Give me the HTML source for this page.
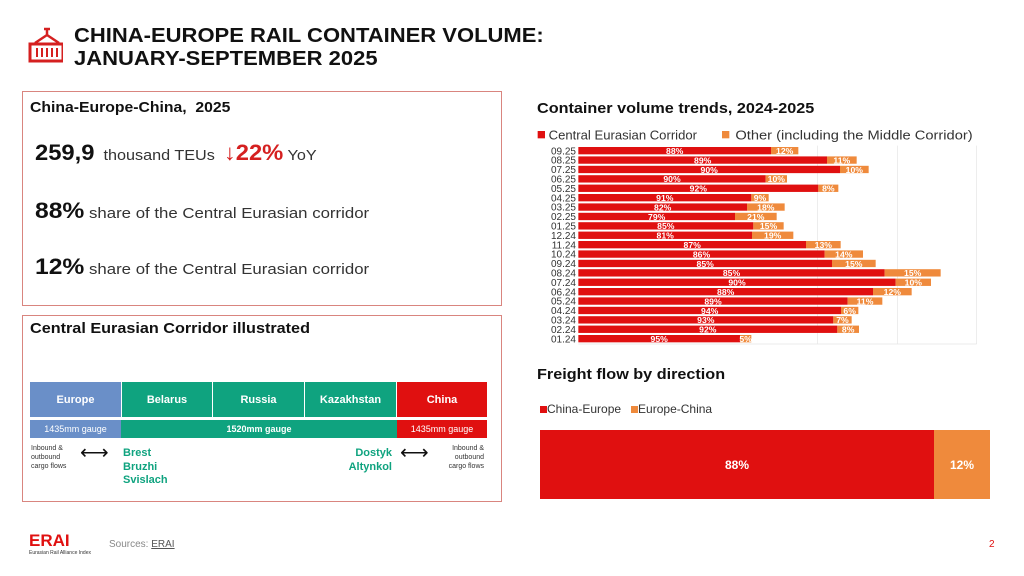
<!DOCTYPE html>
<html><head><meta charset="utf-8"><style>
*{margin:0;padding:0;box-sizing:border-box}
body{width:1024px;height:576px;background:#fff;position:relative;overflow:hidden;font-family:"Liberation Sans",sans-serif;color:#111}
.a{position:absolute;white-space:nowrap}
.box{position:absolute;border:1.5px solid #d9857f}
.b{font-weight:bold}
.cell{position:absolute;color:#fff;font-weight:bold;font-size:11px;display:flex;align-items:center;justify-content:center}
</style></head><body>
<svg class="a" style="left:27px;top:27px" width="36" height="38" viewBox="0 0 36 38">
<path d="M17 2h6M20 2v6M20 8l-12 8M20 8l12 8" stroke="#d52020" stroke-width="2.5" fill="none"/>
<rect x="3" y="17" width="33" height="17" fill="none" stroke="#d52020" stroke-width="3"/>
<path d="M10 21v9M15 21v9M20 21v9M25 21v9M30 21v9" stroke="#d52020" stroke-width="2"/>
</svg>
<div class="a b" style="left:74px;top:25px;font-size:20px;line-height:23px;transform:scaleX(1.1);transform-origin:0 0">CHINA-EUROPE RAIL CONTAINER VOLUME:<br>JANUARY-SEPTEMBER 2025</div>

<div class="box" style="left:22px;top:91px;width:480px;height:215px"></div>
<div class="a b" style="left:30px;top:99px;font-size:15px;transform:scaleX(1.05);transform-origin:0 0">China-Europe-China,&nbsp; 2025</div>
<div class="a" style="left:35px;top:140px;font-size:15px;color:#333;transform:scaleX(1.08);transform-origin:0 0"><span class="b" style="font-size:22px;color:#111">259,9</span>&nbsp; thousand TEUs &nbsp;<span class="b" style="font-size:22px;color:#d52020">↓22%</span> YoY</div>
<div class="a" style="left:35px;top:198px;font-size:15px;color:#333;transform:scaleX(1.12);transform-origin:0 0"><span class="b" style="font-size:22px;color:#111">88%</span> share of the Central Eurasian corridor</div>
<div class="a" style="left:35px;top:254px;font-size:15px;color:#333;transform:scaleX(1.12);transform-origin:0 0"><span class="b" style="font-size:22px;color:#111">12%</span> share of the Central Eurasian corridor</div>

<div class="box" style="left:22px;top:315px;width:480px;height:187px"></div>
<div class="a b" style="left:30px;top:320px;font-size:15px;transform:scaleX(1.08);transform-origin:0 0">Central Eurasian Corridor illustrated</div>
<div class="cell" style="left:30px;top:382px;width:91px;height:35px;background:#6a8fc8">Europe</div>
<div class="cell" style="left:122px;top:382px;width:90px;height:35px;background:#0fa37f">Belarus</div>
<div class="cell" style="left:213px;top:382px;width:91px;height:35px;background:#0fa37f">Russia</div>
<div class="cell" style="left:305px;top:382px;width:91px;height:35px;background:#0fa37f">Kazakhstan</div>
<div class="cell" style="left:397px;top:382px;width:90px;height:35px;background:#e01010">China</div>
<div class="cell" style="left:30px;top:420px;width:91px;height:18px;background:#6a8fc8;font-weight:normal;font-size:9px">1435mm gauge</div>
<div class="cell" style="left:121px;top:420px;width:276px;height:18px;background:#0fa37f;font-size:9px">1520mm gauge</div>
<div class="cell" style="left:397px;top:420px;width:90px;height:18px;background:#e01010;font-weight:normal;font-size:9px">1435mm gauge</div>
<div class="a" style="left:31px;top:444px;font-size:7px;line-height:9px;color:#333">Inbound &amp;<br>outbound<br>cargo flows</div>
<div class="a" style="left:80px;top:443px;font-size:20px;line-height:20px">⟷</div>
<div class="a b" style="left:123px;top:447px;font-size:11px;line-height:13.5px;color:#0fa37f">Brest<br>Bruzhi<br>Svislach</div>
<div class="a b" style="left:335px;top:447px;width:57px;text-align:right;font-size:11px;line-height:13.5px;color:#0fa37f">Dostyk<br>Altynkol</div>
<div class="a" style="left:400px;top:443px;font-size:20px;line-height:20px">⟷</div>
<div class="a" style="left:430px;top:444px;width:54px;text-align:right;font-size:7px;line-height:9px;color:#333">Inbound &amp;<br>outbound<br>cargo flows</div>

<div class="a b" style="left:537px;top:100px;font-size:15px;transform:scaleX(1.08);transform-origin:0 0">Container volume trends, 2024-2025</div>
<svg class="a" style="left:536px;top:125px" width="450" height="225" viewBox="0 0 1350 675" font-family="Liberation Sans, sans-serif">
<rect x="5" y="18" width="22" height="22" fill="#e01010"/><text x="38" y="43" font-size="38" fill="#333" textLength="445" lengthAdjust="spacingAndGlyphs">Central Eurasian Corridor</text>
<rect x="558" y="18" width="22" height="22" fill="#ef8a3c"/><text x="598" y="43" font-size="38" fill="#333" textLength="712" lengthAdjust="spacingAndGlyphs">Other (including the Middle Corridor)</text>
<g stroke="#e4e4e4" stroke-width="2"><line x1="845" y1="62" x2="845" y2="657"/><line x1="1084" y1="62" x2="1084" y2="657"/><line x1="1322" y1="62" x2="1322" y2="657"/><line x1="127" y1="657" x2="1322" y2="657"/></g>
<g id="bars"></g>
</svg>
<script>
var d=[["09.25",705,787,"88%","12%"],["08.25",873,962,"89%","11%"],["07.25",912,998,"90%","10%"],["06.25",689,753,"90%","10%"],["05.25",847,907,"92%","8%"],["04.25",646,698,"91%","9%"],["03.25",633,746,"82%","18%"],["02.25",597,722,"79%","21%"],["01.25",652,743,"85%","15%"],["12.24",648,772,"81%","19%"],["11.24",810,914,"87%","13%"],["10.24",866,981,"86%","14%"],["09.24",888,1019,"85%","15%"],["08.24",1046,1214,"85%","15%"],["07.24",1079,1185,"90%","10%"],["06.24",1011,1127,"88%","12%"],["05.24",935,1039,"89%","11%"],["04.24",915,967,"94%","6%"],["03.24",892,947,"93%","7%"],["02.24",904,969,"92%","8%"],["01.24",612,646,"95%","5%"]];
var s="";d.forEach(function(r,i){var y=66+i*28.2;
s+='<rect x="127" y="'+y+'" width="'+(r[1]-127)+'" height="22" fill="#e01010"/><rect x="'+r[1]+'" y="'+y+'" width="'+(r[2]-r[1])+'" height="22" fill="#ef8a3c"/>';
s+='<text x="120" y="'+(y+22)+'" font-size="30" text-anchor="end" fill="#333">'+r[0]+'</text>';
s+='<text x="'+((127+r[1])/2)+'" y="'+(y+21)+'" font-size="26" font-weight="bold" text-anchor="middle" fill="#fff">'+r[3]+'</text>';
s+='<text x="'+((r[1]+r[2])/2)+'" y="'+(y+21)+'" font-size="26" font-weight="bold" text-anchor="middle" fill="#fff">'+r[4]+'</text>';});
document.getElementById("bars").innerHTML=s;
</script>

<div class="a b" style="left:537px;top:366px;font-size:15px;transform:scaleX(1.08);transform-origin:0 0">Freight flow by direction</div>
<div class="a" style="left:540px;top:402px;font-size:12px;color:#333"><span style="display:inline-block;width:7px;height:7px;background:#e01010"></span>China-Europe &nbsp;&nbsp;<span style="display:inline-block;width:7px;height:7px;background:#ef8a3c"></span>Europe-China</div>
<div class="cell" style="left:540px;top:430px;width:394px;height:69px;background:#e01010;font-size:12px">88%</div>
<div class="cell" style="left:934px;top:430px;width:56px;height:69px;background:#ef8a3c;font-size:12px">12%</div>

<div class="a b" style="left:29px;top:532px;font-size:17px;color:#e01010;line-height:17px">ERAI</div>
<div class="a" style="left:29px;top:550px;font-size:5px;color:#333">Eurasian Rail Alliance Index</div>
<div class="a" style="left:109px;top:539px;font-size:10px;color:#888">Sources: <span style="text-decoration:underline;color:#555">ERAI</span></div>
<div class="a" style="left:989px;top:539px;font-size:10px;color:#e01010">2</div>
</body></html>
